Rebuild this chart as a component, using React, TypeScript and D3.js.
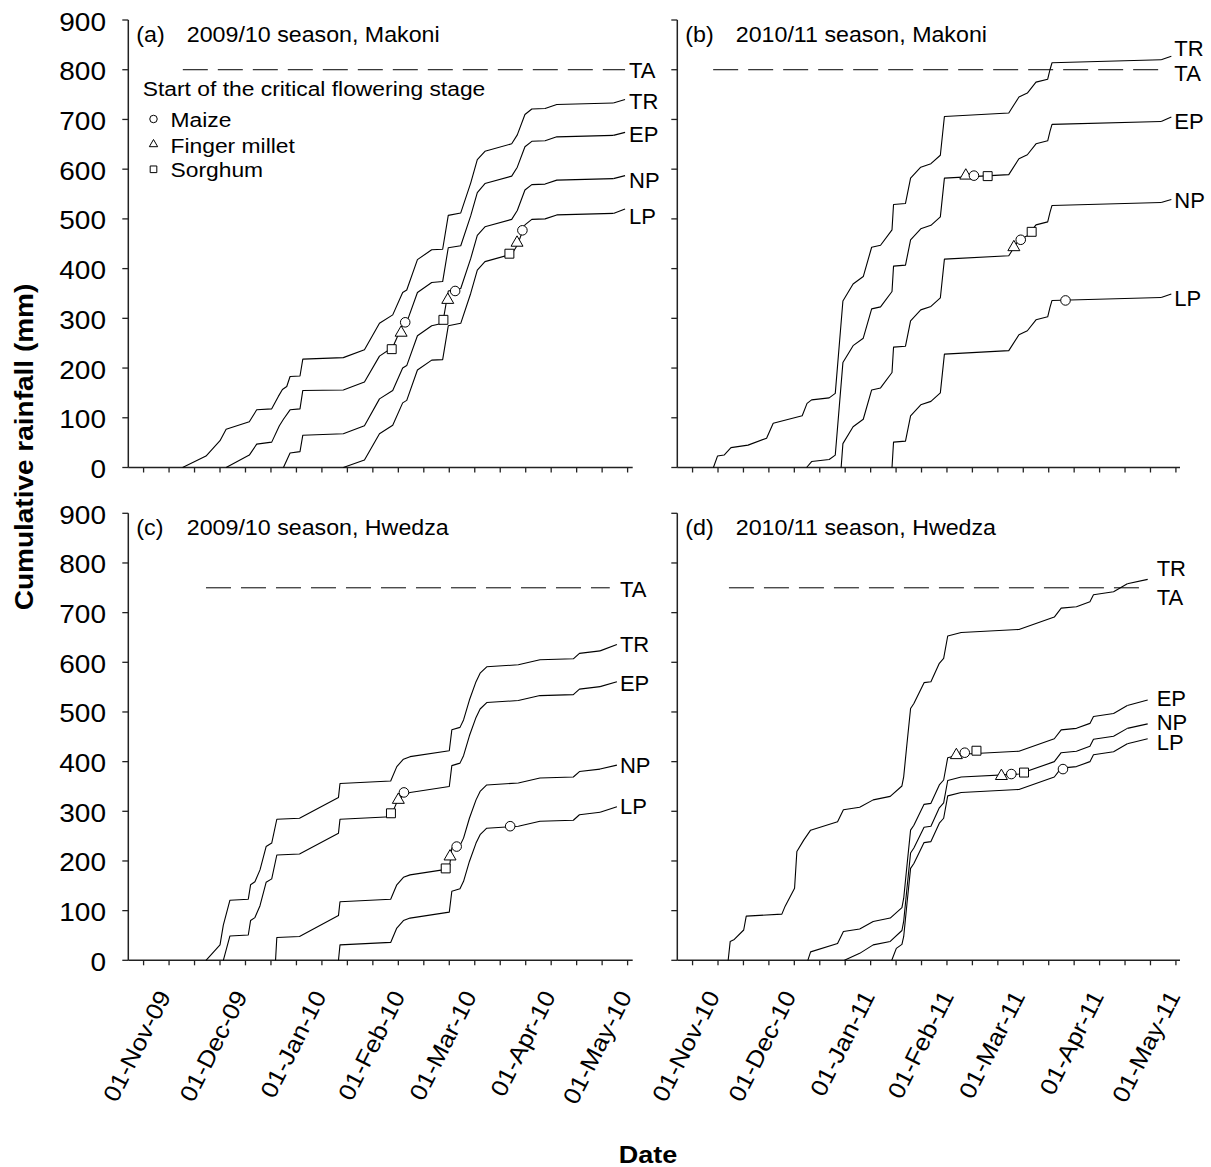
import * as d3 from 'd3';

// Cumulative rainfall after sowing.
// Each point is [days after 1 November, cumulative mm].
const SERIES = ['TR', 'EP', 'NP', 'LP'];

const NOV1_2009 = Date.UTC(2009, 10, 1);
const NOV1_2010 = Date.UTC(2010, 10, 1);

// (a) 2009/10 season, Makoni
const aTR = [[6.3,0],[15.5,23],[21,54],[23.4,77],[32.5,92],[35.4,116],[41.3,118],[43.9,143],[45.5,157],[47.2,163],[48.5,183],[52.4,184],[53.5,218],[69.4,221],[77.7,237],[83.6,290],[88.8,307],[92.7,352],[94.3,357],[98.5,418],[104.1,438],[108.4,439],[110.6,507],[115.5,512],[119.4,572],[122,619],[125,636],[135.5,651],[137.7,669],[140.7,710],[143.4,721],[148.6,722],[153.2,730],[175.4,733]];
const aEP = [[23.4,0],[32.5,25],[35.4,47],[41.3,51],[44.3,84],[45.9,97],[48.5,116],[52.4,118],[53.5,155],[69.4,156],[77.7,172],[83.6,224],[88.8,242],[92.7,287],[94.3,292],[98.5,352],[104.1,372],[108.4,374],[110.6,442],[115.5,446],[119.4,506],[122,553],[125,571],[135.5,586],[137.7,604],[140.7,645],[143.4,656],[148.6,657],[153.2,665],[175.4,668]];
const aNP = [[45.9,0],[48.5,29],[52.4,32],[53.5,65],[69.4,68],[77.7,84],[83.6,138],[88.8,155],[92.7,200],[94.3,205],[98.5,265],[104.1,285],[108.4,290],[110.6,355],[115.5,360],[119.4,420],[122,467],[125,484],[135.5,499],[137.7,517],[140.7,558],[143.4,569],[148.6,570],[153.2,578],[175.4,581]];
const aLP = [[69.4,0],[77.7,15],[83.6,68],[88.8,85],[92.7,130],[94.3,135],[98.5,196],[104.1,216],[108.4,217],[110.6,285],[115.5,290],[119.4,350],[122,397],[125,414],[135.5,429],[137.7,447],[140.7,488],[143.4,499],[148.6,500],[153.2,508],[175.4,511]];
const aFlowering = [['sorghum',88.4,238],['millet',92.1,271],['maize',93.7,292],['sorghum',108.7,297],['millet',110.4,337],['maize',113.3,355],['sorghum',134.6,430],['millet',137.6,452],['maize',139.7,477]];
const aTips = [740, 674, 587, 520];
const aLabels = [737, 671, 578, 505];

// (b) 2010/11 season, Makoni
const bTR = [[-0.8,0],[0.8,23],[3.4,25],[6.1,40],[12.8,45],[20.1,59],[22.7,89],[34.1,104],[36,129],[37.8,136],[44.7,140],[47.1,149],[50.1,335],[54.1,369],[58.1,384],[61.4,443],[64.9,447],[69.4,478],[70,529],[74.7,531],[76.7,582],[80.7,604],[84.7,611],[88.4,628],[90,706],[115.3,713],[119.3,745],[122.6,753],[126,775],[130.6,781],[131.5,800],[132.3,814],[175.2,820]];
const bEP = [[35.8,0],[37.8,12],[44.7,16],[47.1,25],[50.1,211],[54.1,245],[58.1,260],[61.4,319],[64.9,323],[69.4,354],[70,405],[74.7,407],[76.7,458],[80.7,480],[84.7,487],[88.4,504],[90,582],[115.3,589],[119.3,621],[122.6,629],[126,651],[130.6,657],[131.5,676],[132.3,690],[175.2,696]];
const bNP = [[49.4,0],[50.1,48],[54.1,82],[58.1,97],[61.4,156],[64.9,160],[69.4,191],[70,242],[74.7,244],[76.7,295],[80.7,317],[84.7,324],[88.4,341],[90,419],[115.3,426],[119.3,458],[122.6,466],[126,488],[130.6,494],[131.5,513],[132.3,527],[175.2,533]];
const bLP = [[69.4,0],[70,51],[74.7,53],[76.7,104],[80.7,126],[84.7,133],[88.4,150],[90,228],[115.3,235],[119.3,267],[122.6,275],[126,297],[130.6,303],[131.5,322],[132.3,336],[175.2,342]];
const bFlowering = [['millet',98.4,587],['maize',101.6,587],['sorghum',107,586],['millet',117.3,443],['maize',120,458],['sorghum',124.3,474],['maize',137.6,336]];
const bTips = [827, 705, 539, 349];
const bLabels = [844, 697, 538, 341];

// (c) 2009/10 season, Hwedza
const cTR = [[15.5,0],[21,31],[22.3,71],[24.9,121],[32.1,123],[33,152],[34.7,158],[36.7,182],[39.1,229],[41.3,236],[43.3,284],[52.2,286],[67.5,328],[68.1,356],[88,361],[90.4,390],[93,405],[95.6,410],[111,422],[112,464],[115.2,469],[116.6,484],[118.9,524],[121.5,561],[123.1,578],[125.7,591],[138.1,595],[146.6,605],[159.7,607],[162.1,618],[170.2,623]];
const cEP = [[22.3,0],[24.9,49],[32.1,51],[33,80],[34.7,86],[36.7,110],[39.1,157],[41.3,164],[43.3,212],[52.2,214],[67.5,256],[68.1,284],[88,289],[90.4,318],[93,333],[95.6,338],[111,350],[112,392],[115.2,397],[116.6,412],[118.9,452],[121.5,489],[123.1,506],[125.7,519],[138.1,523],[146.6,533],[159.7,535],[162.1,546],[170.2,551]];
const cNP = [[42.8,0],[43.3,46],[52.2,48],[67.5,90],[68.1,118],[88,123],[90.4,152],[93,167],[95.6,172],[111,184],[112,226],[115.2,231],[116.6,246],[118.9,286],[121.5,323],[123.1,340],[125.7,353],[138.1,357],[146.6,367],[159.7,369],[162.1,380],[170.2,385]];
const cLP = [[67.5,0],[68.1,31],[88,36],[90.4,65],[93,80],[95.6,85],[111,97],[112,139],[115.2,144],[116.6,159],[118.9,199],[121.5,236],[123.1,253],[125.7,266],[138.1,270],[146.6,280],[159.7,282],[162.1,293],[170.2,298]];
const cFlowering = [['sorghum',88.1,296],['millet',91,323],['maize',93.2,338],['sorghum',109.6,185],['millet',111.3,209],['maize',113.9,229],['maize',134.9,270]];
const cTips = [636, 561, 393, 309];
const cLabels = [637, 559, 394, 310];

// (d) 2010/11 season, Hwedza
const dTR = [[5,0],[5.8,38],[7.4,42],[11.1,61],[12.1,89],[26.1,93],[27.4,109],[31.1,145],[32,219],[34.7,242],[37.4,262],[48,279],[50.3,303],[56.7,308],[62,323],[68.7,330],[73.3,351],[74,370],[75.3,437],[76.7,507],[78,517],[82,559],[84.7,561],[88,598],[89.7,608],[91.3,653],[96.6,660],[119.3,666],[133.2,691],[135.9,709],[141.9,712],[147.2,722],[148.6,736],[156.5,742],[161.9,758]];
const dEP = [[36.3,0],[37.4,17],[48,34],[50.3,58],[56.7,63],[62,78],[68.7,85],[73.3,106],[74,125],[75.3,192],[76.7,262],[78,272],[82,314],[84.7,316],[88,353],[89.7,363],[91.3,408],[96.6,415],[119.3,421],[133.2,446],[135.9,464],[141.9,467],[147.2,477],[148.6,491],[156.5,497],[161.9,513]];
const dNP = [[50.7,0],[56.7,14],[62,31],[68.7,38],[73.3,60],[74,79],[75.3,146],[76.7,216],[78,226],[82,268],[84.7,270],[88,307],[89.7,317],[91.3,362],[96.6,369],[119.3,375],[133.2,400],[135.9,418],[141.9,421],[147.2,431],[148.6,445],[156.5,451],[161.9,467]];
const dLP = [[69.3,0],[71.1,24],[73.3,32],[74,48],[75.3,115],[76.7,185],[78,195],[82,237],[84.7,239],[88,276],[89.7,286],[91.3,331],[96.6,338],[119.3,344],[133.2,369],[135.9,387],[141.9,390],[147.2,400],[148.6,414],[156.5,420],[161.9,436]];
const dFlowering = [['millet',94.7,413],['maize',98,418],['sorghum',102.6,422],['millet',112.4,371],['maize',116.3,375],['sorghum',121.3,378],['maize',136.6,385]];
const dTips = [767, 524, 476, 446];
const dLabels = [789, 528, 480, 440];

// target amount (TA) lines: [mm, from day, to day, label mm]
const taLines = [[800, 6.4, 180, 800], [800, -0.9, 177, 793], [750, 15.5, 174, 748], [750, 5.3, 167, 732]];
const tipDays = [180, 179.2, 176.8, 169.9];

const yTicks = d3.range(0, 901, 100);
const xTickDays = d3.range(-9, 182, 10); // every 10 days, ending on 1 May

const FONT = '"Liberation Sans", Arial, Helvetica, sans-serif';

const panels = [
  { tag: '(a)', title: '2009/10 season, Makoni', start: NOV1_2009, col: 0, row: 0, lines: [aTR, aEP, aNP, aLP], flowering: aFlowering, tips: aTips, labels: aLabels, ta: taLines[0], tipDay: tipDays[0], gap: 4 },
  { tag: '(b)', title: '2010/11 season, Makoni', start: NOV1_2010, col: 1, row: 0, lines: [bTR, bEP, bNP, bLP], flowering: bFlowering, tips: bTips, labels: bLabels, ta: taLines[1], tipDay: tipDays[1], gap: 3 },
  { tag: '(c)', title: '2009/10 season, Hwedza', start: NOV1_2009, col: 0, row: 1, lines: [cTR, cEP, cNP, cLP], flowering: cFlowering, tips: cTips, labels: cLabels, ta: taLines[2], tipDay: tipDays[2], gap: 3 },
  { tag: '(d)', title: '2010/11 season, Hwedza', start: NOV1_2010, col: 1, row: 1, lines: [dTR, dEP, dNP, dLP], flowering: dFlowering, tips: dTips, labels: dLabels, ta: taLines[3], tipDay: tipDays[3], gap: 9 },
];

const symbolType = { maize: d3.symbolCircle, millet: d3.symbolTriangle, sorghum: d3.symbolSquare };
const symbolSize = { maize: 72, millet: 62, sorghum: 80 };
const legendSize = { maize: 44, millet: 30, sorghum: 44 };

const dayDate = (start, d) => new Date(start + d * 864e5);
const fmt = d3.utcFormat('%d-%b-%y');

// sx widens the lettering along the text direction (the original type is a bit wider than Arial)
const Txt = ({ x, y, size, sx = 1, anchor = 'start', bold = false, rotate = 0, children }) => (
  <text
    transform={`translate(${x},${y}) rotate(${rotate}) scale(${sx},1)`}
    fontFamily={FONT}
    fontSize={size}
    fontWeight={bold ? 'bold' : 'normal'}
    textAnchor={anchor}
    fill="#000"
  >
    {children}
  </text>
);

const Panel = ({ p }) => {
  const [x0, x1] = p.col === 0 ? [128.3, 632.7] : [677.3, 1181];
  const axisEnd = p.col === 0 ? 632.7 : 1180;
  const [yb, yt] = p.row === 0 ? [467.5, 20] : [960.3, 513.3];

  const x = d3.scaleUtc().domain([dayDate(p.start, -15), dayDate(p.start, 183)]).range([x0, x1]);
  const y = d3.scaleLinear().domain([0, 900]).range([yb, yt]);
  const xd = (d) => x(dayDate(p.start, d));
  const line = d3.line().x((d) => xd(d[0])).y((d) => y(d[1]));

  const months = d3.utcMonth.range(dayDate(p.start, 0), dayDate(p.start, 182));
  const [taMm, taFrom, taTo, taLabel] = p.ta;
  const labelX = xd(p.tipDay) + p.gap;

  return (
    <g>
      {/* axes */}
      <line x1={x0} x2={x0} y1={yt} y2={yb} stroke="#222" strokeWidth={1.5} />
      <line x1={x0} x2={axisEnd} y1={yb} y2={yb} stroke="#222" strokeWidth={1.5} />
      {yTicks.map((v) => (
        <line key={v} x1={x0 - 6} x2={x0} y1={y(v)} y2={y(v)} stroke="#222" strokeWidth={1.3} />
      ))}
      {xTickDays.map((d) => (
        <line key={d} x1={xd(d)} x2={xd(d)} y1={yb} y2={yb + 5} stroke="#222" strokeWidth={1.3} />
      ))}
      {p.col === 0 &&
        yTicks.map((v) => (
          <Txt key={v} x={106} y={y(v) + 10.5} size={25} sx={1.12} anchor="end">{v}</Txt>
        ))}
      {p.row === 1 &&
        months.map((m) => (
          <Txt key={+m} x={x(m) + 5} y={996} size={23.5} sx={1.1} anchor="end" rotate={-63}>{fmt(m)}</Txt>
        ))}

      {/* panel title */}
      <Txt x={x0 + 8} y={yt + 21.7} size={22} sx={1.06}>{p.tag}</Txt>
      <Txt x={x0 + 58.5} y={yt + 21.7} size={22} sx={1.055}>{p.title}</Txt>

      {/* target amount */}
      <line x1={xd(taFrom)} x2={xd(taTo)} y1={y(taMm)} y2={y(taMm)} stroke="#000" strokeWidth={1} strokeDasharray="25,10" />
      <Txt x={labelX} y={y(taLabel) + 7.9} size={22}>TA</Txt>

      {/* rainfall curves */}
      {p.lines.map((pts, i) => {
        const last = pts[pts.length - 1];
        return (
          <g key={SERIES[i]}>
            <path d={line(pts)} fill="none" stroke="#000" strokeWidth={1.1} strokeLinejoin="round" />
            <line x1={xd(last[0])} y1={y(last[1])} x2={xd(p.tipDay)} y2={y(p.tips[i])} stroke="#000" strokeWidth={1.1} />
            <Txt x={labelX} y={y(p.labels[i]) + 7.9} size={22}>{SERIES[i]}</Txt>
          </g>
        );
      })}

      {/* start of the critical flowering stage */}
      {p.flowering.map(([crop, d, v], i) => (
        <path
          key={i}
          transform={`translate(${xd(d)},${y(v)})`}
          d={d3.symbol().type(symbolType[crop]).size(symbolSize[crop])()}
          fill="#fff"
          stroke="#000"
          strokeWidth={1}
        />
      ))}
    </g>
  );
};

const Legend = () => {
  const items = [
    ['maize', 'Maize', 119, 127.3],
    ['millet', 'Finger millet', 144.3, 152.7],
    ['sorghum', 'Sorghum', 169.3, 177.3],
  ];
  return (
    <g>
      <Txt x={142.7} y={96} size={20.4} sx={1.12}>Start of the critical flowering stage</Txt>
      {items.map(([crop, name, my, ty]) => (
        <g key={crop}>
          <path
            transform={`translate(153.5,${my})`}
            d={d3.symbol().type(symbolType[crop]).size(legendSize[crop])()}
            fill="#fff"
            stroke="#000"
            strokeWidth={1}
          />
          <Txt x={170.5} y={ty} size={20.4} sx={1.12}>{name}</Txt>
        </g>
      ))}
    </g>
  );
};

export default function App() {
  return (
    <svg width={1211} height={1167} style={{ position: 'absolute', left: 0, top: 0, background: '#fff' }}>
      <rect width={1211} height={1167} fill="#fff" />
      {panels.map((p) => (
        <Panel key={p.tag} p={p} />
      ))}
      <Legend />
      <Txt x={33} y={447} size={25} sx={1.12} bold anchor="middle" rotate={-90}>Cumulative rainfall (mm)</Txt>
      <Txt x={648} y={1163} size={23.5} sx={1.15} bold anchor="middle">Date</Txt>
    </svg>
  );
}
